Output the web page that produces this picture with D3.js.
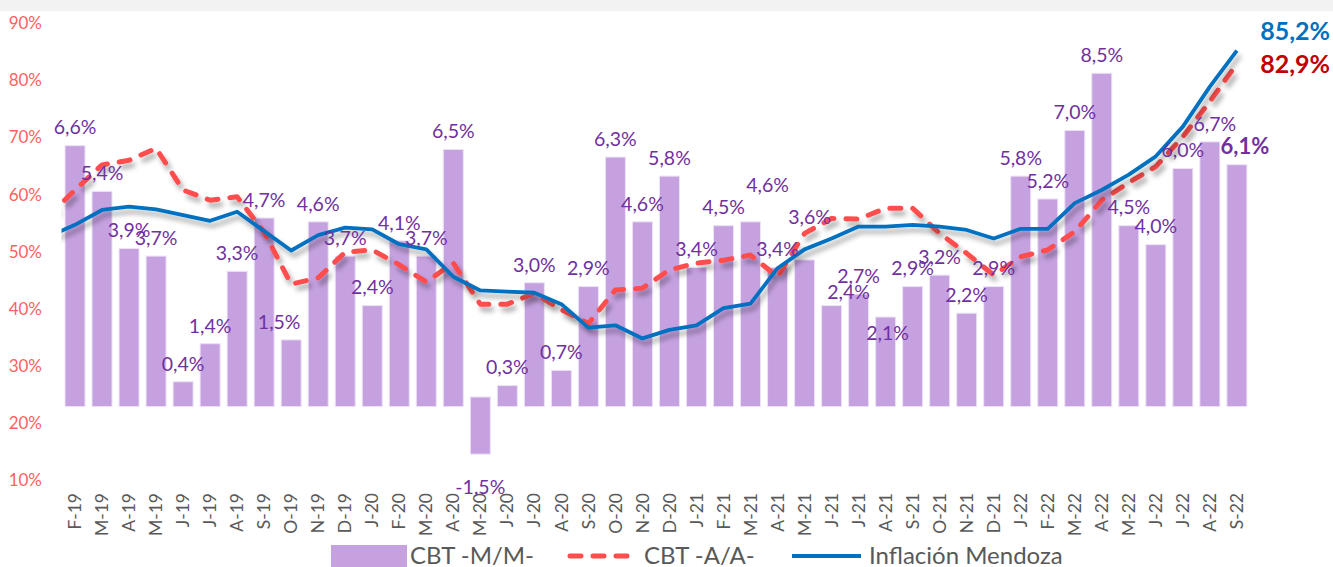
<!DOCTYPE html>
<html>
<head>
<meta charset="utf-8">
<script src="https://cdn.jsdelivr.net/npm/d3@7"></script>
<style>
  body { margin: 0; background: #fff; }
  svg { display: block; font-family: Lato, "Open Sans", sans-serif; }
</style>
</head>
<body>
<svg id="chart" width="1333" height="567"></svg>
<script>
const months = ['F-19','M-19','A-19','M-19','J-19','J-19','A-19','S-19','O-19','N-19','D-19',
  'J-20','F-20','M-20','A-20','M-20','J-20','J-20','A-20','S-20','O-20','N-20','D-20',
  'J-21','F-21','M-21','A-21','M-21','J-21','J-21','A-21','S-21','O-21','N-21','D-21',
  'J-22','F-22','M-22','A-22','M-22','J-22','J-22','A-22','S-22'];

// CBT month over month (bars)
const cbtMM = [6.6,5.4,3.9,3.7,0.4,1.4,3.3,4.7,1.5,4.6,3.7,2.4,4.1,3.7,6.5,-1.5,0.3,3.0,0.7,2.9,
  6.3,4.6,5.8,3.4,4.5,4.6,3.4,3.6,2.4,2.7,2.1,2.9,3.2,2.2,2.9,5.8,5.2,7.0,8.5,4.5,4.0,6.0,6.7,6.1];

// lines: first value is the month before F-19, it only shows at the left edge
const cbtAA = [56.2, 60.8,65.2,66.0,68.1,60.8,59.0,59.6,53.4,44.3,45.4,49.9,50.3,47.7,44.7,48.0,40.8,40.8,
  42.7,39.8,37.4,43.3,43.6,46.8,48.0,48.5,49.4,45.6,53.2,55.8,55.7,57.6,57.6,53.2,49.7,45.9,
  49.1,50.3,53.5,59.0,62.1,64.9,70.1,76.3,82.9];
const inflMza = [52.6, 54.7,57.3,57.9,57.4,56.4,55.4,57.0,53.6,50.2,52.9,54.2,53.9,51.3,50.4,45.6,43.2,43.0,
  42.8,40.8,36.7,37.1,34.8,36.3,37.1,40.1,40.9,47.1,50.4,52.3,54.4,54.4,54.7,54.4,53.8,52.3,
  54.0,54.0,58.5,60.8,63.5,66.7,71.9,78.9,85.2];

const yTicks = [10,20,30,40,50,60,70,80,90];
const legendNames = ['CBT -M/M-', 'CBT -A/A-', 'Inflación Mendoza'];

const purple = '#7030A0', barFill = '#C5A1E0', red = '#FF4D4D', blue = '#0070C0';
const loc = d3.formatLocale({decimal: ',', thousands: '.', grouping: [3], currency: ['$', ''], minus: '-'});
const pct = v => loc.format('.1f')(v) + '%';

// labels that were hand-placed in the original (offsets in px)
const nudge = {8: [-12, 0], 25: [17, -19], 27: [5, -25], 28: [17, 5], 30: [2, 34], 42: [5, 0], 43: [8, 0]};

const svg = d3.select('#chart');
svg.append('rect').attr('width', 1333).attr('height', 11).attr('fill', '#F2F2F2');

const defs = svg.append('defs');
const f = defs.append('filter').attr('id', 'shadow')
  .attr('x', '-5%').attr('y', '-20%').attr('width', '110%').attr('height', '140%');
f.append('feDropShadow').attr('dx', 3).attr('dy', 5).attr('stdDeviation', 2.5)
  .attr('flood-color', '#000').attr('flood-opacity', 0.33);

const x = d3.scaleBand().domain(d3.range(months.length)).range([61.5, 1250.4])
  .paddingInner(0.26).paddingOuter(0.13);
const step = x.step();
const cx = i => x(0) + x.bandwidth() / 2 + step * i;

const y = d3.scaleLinear().domain([10, 90]).range([480, 23.3]);
const barY = d3.scaleLinear().domain([0, 8.5]).range([397, 73.3]);
const barFloor = -0.25;

defs.append('clipPath').attr('id', 'plot').append('rect')
  .attr('x', x.range()[0]).attr('y', 0).attr('width', 1280 - x.range()[0]).attr('height', 520);

// left axis
const yAxis = svg.append('g').attr('transform', 'translate(43,0)')
  .call(d3.axisLeft(y).tickValues(yTicks).tickSize(0).tickPadding(1).tickFormat(d => d + '%'));
yAxis.select('.domain').remove();
yAxis.selectAll('text').attr('fill', '#FF5F5F').style('font-size', '17px').style('font-family', 'Lato');

// bars
svg.append('g').selectAll('rect').data(cbtMM).join('rect')
  .attr('x', (d, i) => x(i))
  .attr('width', x.bandwidth())
  .attr('y', d => d >= 0 ? barY(d) : barY(0))
  .attr('height', d => d >= 0 ? barY(barFloor) - barY(d) : barY(d) - barY(0))
  .attr('fill', barFill)
  .attr('stroke', '#EDE2F6').attr('stroke-width', 1);

// x axis
const xAxis = svg.append('g').attr('transform', 'translate(0,486)')
  .call(d3.axisBottom(x).tickSize(0).tickFormat(i => months[i]));
xAxis.select('.domain').remove();
xAxis.selectAll('text')
  .attr('transform', 'rotate(-90)')
  .attr('x', -7).attr('y', 0).attr('dy', '0.35em')
  .attr('text-anchor', 'end')
  .attr('fill', '#595959').style('font-size', '17.5px').style('font-family', 'Lato');

// lines
const line = d3.line().x((d, i) => cx(i - 1)).y(d => y(d));
const lines = svg.append('g').attr('clip-path', 'url(#plot)');
lines.append('path').datum(cbtAA)
  .attr('d', line).attr('fill', 'none').attr('stroke', red).attr('stroke-width', 5)
  .attr('stroke-dasharray', '11 12').attr('stroke-linecap', 'round').attr('stroke-linejoin', 'round')
  .attr('filter', 'url(#shadow)');
lines.append('path').datum(inflMza)
  .attr('d', line).attr('fill', 'none').attr('stroke', blue).attr('stroke-width', 3.8)
  .attr('stroke-linejoin', 'round')
  .attr('filter', 'url(#shadow)');

// bar labels
const last = cbtMM.length - 1;
const nd = i => nudge[i] || [0, 0];
svg.append('g').selectAll('text').data(cbtMM).join('text')
  .attr('x', (d, i) => cx(i) + nd(i)[0])
  .attr('y', (d, i) => (d >= 0 ? barY(d) - 18 : barY(d) + 33) + nd(i)[1])
  .attr('dy', '0.35em')
  .attr('text-anchor', 'middle')
  .attr('fill', purple)
  .style('font-size', (d, i) => i === last ? '22px' : '19.5px')
  .style('font-weight', (d, i) => i === last ? 'bold' : 'normal')
  .text(d => pct(d));

// end labels
const lastInfl = inflMza[inflMza.length - 1], lastAA = cbtAA[cbtAA.length - 1];
svg.append('text').attr('x', 1330).attr('y', y(lastInfl) - 19).attr('dy', '0.35em')
  .attr('text-anchor', 'end').attr('fill', blue)
  .style('font-size', '25px').style('font-weight', 'bold').text(pct(lastInfl));
svg.append('text').attr('x', 1330).attr('y', y(lastAA)).attr('dy', '0.35em')
  .attr('text-anchor', 'end').attr('fill', '#C00000')
  .style('font-size', '25px').style('font-weight', 'bold').text(pct(lastAA));

// legend
const lg = svg.append('g');
lg.append('rect').attr('x', 331).attr('y', 545).attr('width', 76).attr('height', 24).attr('fill', barFill);
lg.append('line').attr('x1', 570).attr('x2', 630).attr('y1', 556).attr('y2', 556)
  .attr('stroke', red).attr('stroke-width', 5).attr('stroke-dasharray', '11 12').attr('stroke-linecap', 'round');
lg.append('line').attr('x1', 792).attr('x2', 861).attr('y1', 556).attr('y2', 556)
  .attr('stroke', blue).attr('stroke-width', 4);
[410, 644, 869].forEach((lx, k) => {
  lg.append('text').attr('x', lx).attr('y', 564)
    .attr('fill', '#595959').style('font-size', '24px').text(legendNames[k]);
});
</script>
</body>
</html>
